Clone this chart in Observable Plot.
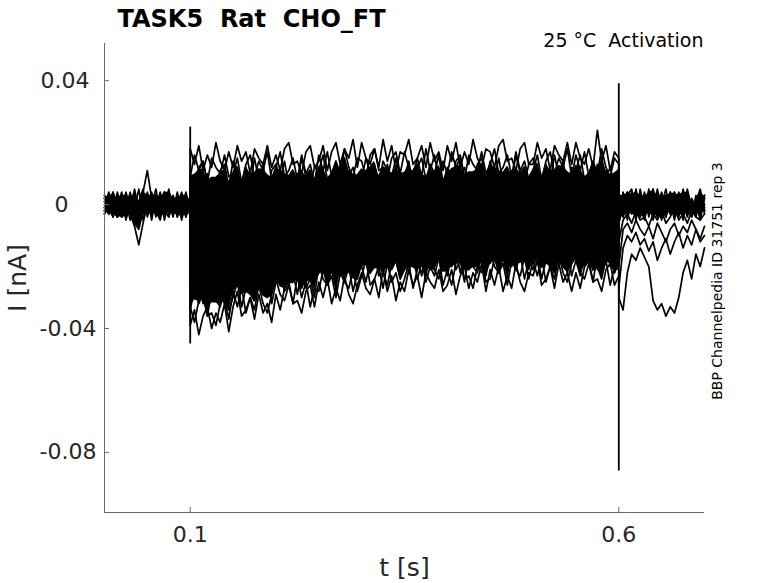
<!DOCTYPE html>
<html><head><meta charset="utf-8">
<script src="https://cdn.jsdelivr.net/npm/d3@7"></script>
<script src="https://cdn.jsdelivr.net/npm/@observablehq/plot@0.6"></script>
<style>
html,body{margin:0;padding:0;background:#fff;overflow:hidden;}
</style>
</head><body>
<div id="chart"></div>
<script>
// sample times in ms (pre-pulse, 0.1–0.6 s step, tail)
const tMs = [
  0,5,10,15,20,25,30,35,40,45,50,55,60,65,70,75,80,85,90,95,100,
  100,105,110,115,120,125,130,135,140,145,
  150,155,160,165,170,175,180,185,190,195,
  200,205,210,215,220,225,230,235,240,245,
  250,255,260,265,270,275,280,285,290,295,
  300,305,310,315,320,325,330,335,340,345,
  350,355,360,365,370,375,380,385,390,395,
  400,405,410,415,420,425,430,435,440,445,
  450,455,460,465,470,475,480,485,490,495,
  500,505,510,515,520,525,530,535,540,545,
  550,555,560,565,570,575,580,585,590,595,
  600,
  600,605,610,615,620,625,630,635,640,645,650,655,660,665,670,675,680,685,690,695,700
];

// current traces in pA
const trace01 = [
  2,-3,4,-1,-4,3,1,-2,5,-3,0,4,-2,-5,3,1,-4,2,-1,3,0,
  18,13,19,11,16,12,20,14,11,17,
  12,19,14,17,10,18,15,13,19,12,
  16,11,18,20,13,14,10,17,19,12,
  14,19,11,17,20,13,18,15,21,12,
  20,15,13,18,12,21,14,19,11,17,
  16,21,13,15,19,12,20,14,17,11,
  19,14,20,12,17,13,21,15,12,18,
  17,12,19,21,14,15,11,18,20,13,
  13,20,15,18,11,19,16,14,20,13,
  20,15,13,18,12,24,14,19,11,17,
  15,
  0,3,-2,4,-4,1,-3,5,-1,-4,2,-3,4,-1,2,-5,3,0,-2,4,-3
];
const trace02 = [
  -1,4,-3,2,0,-4,3,-2,1,5,-3,2,-1,-4,4,0,-2,3,-5,1,2,
  9,16,11,14,7,15,12,10,16,9,
  10,15,7,13,16,9,14,11,17,8,
  12,17,9,11,15,8,16,10,13,7,
  16,11,17,9,14,10,18,12,9,15,
  14,9,16,18,11,12,8,15,17,10,
  17,12,10,15,9,18,11,16,8,14,
  10,17,12,15,8,16,13,11,17,10,
  13,18,10,12,16,9,17,11,14,8,
  11,16,8,14,17,10,15,12,18,9,
  16,11,17,9,14,10,18,12,9,15,
  13,
  4,-1,-3,2,-4,5,-2,3,-5,1,0,5,-3,-1,3,-4,4,-2,1,-5,2
];
const trace03 = [
  3,0,-4,2,-2,4,-1,-3,1,-5,2,3,-2,0,-3,4,1,-4,2,-1,0,
  10,5,12,14,7,8,4,11,13,6,
  14,9,7,12,6,15,8,13,5,11,
  13,8,14,6,11,7,15,9,6,12,
  11,16,8,10,14,7,15,9,12,6,
  8,15,10,13,6,14,11,9,15,8,
  9,14,6,12,15,8,13,10,16,7,
  12,7,14,16,9,10,6,13,15,8,
  14,9,15,7,12,8,16,10,7,13,
  15,10,8,13,7,16,9,14,6,12,
  11,16,8,10,14,7,15,9,12,6,
  11,
  -2,3,-5,1,4,-3,2,-1,5,-4,3,-2,4,-4,1,-3,5,-1,-4,2,0
];
const trace04 = [
  -3,1,4,-2,3,-5,0,2,-1,4,-4,1,3,-2,-1,5,-3,0,2,-4,1,
  4,9,1,7,10,3,8,5,11,2,
  7,12,4,6,10,3,11,5,8,2,
  4,11,6,9,2,10,7,5,11,4,
  12,7,5,10,4,13,6,11,3,9,
  11,6,12,4,9,5,13,7,4,10,
  9,4,11,13,6,7,3,10,12,5,
  6,11,3,9,12,5,10,7,13,4,
  5,12,7,10,3,11,8,6,12,5,
  8,13,5,7,11,4,12,6,9,3,
  12,7,5,10,4,13,6,11,3,9,
  8,
  1,-4,3,5,-2,-1,-5,2,4,-3,0,2,-3,4,-1,-2,3,-4,1,5,-2
];
const trace05 = [
  1,-2,3,-4,2,0,-3,5,-1,-2,4,-3,1,2,-5,3,-1,0,4,-2,-3,
  7,2,0,5,-1,8,1,6,-2,4,
  7,2,8,0,5,1,9,3,0,6,
  2,7,-1,5,8,1,6,3,9,0,
  2,9,4,7,0,8,5,3,9,2,
  5,10,2,4,8,1,9,3,6,0,
  6,1,8,10,3,4,0,7,9,2,
  9,4,2,7,1,10,3,8,0,6,
  3,8,0,6,9,2,7,4,10,1,
  8,3,9,1,6,2,10,4,1,7,
  2,9,4,7,0,8,5,3,9,2,
  5,
  -3,4,-1,2,-5,3,0,-2,4,-3,2,-4,1,3,-2,5,-1,-3,0,4,-1
];
const trace06 = [
  -2,3,0,-1,4,-3,2,-4,1,3,-2,0,5,-3,1,-1,2,-4,3,0,-2,
  0,5,-3,-1,3,-4,4,-2,1,-5,
  2,-3,4,6,-1,0,-4,3,5,-2,
  4,-1,5,-3,2,-2,6,0,-3,3,
  0,5,-3,3,6,-1,4,1,7,-2,
  -1,6,1,4,-3,5,2,0,6,-1,
  6,1,-1,4,-2,7,0,5,-3,3,
  2,7,-1,1,5,-2,6,0,3,-3,
  5,0,6,-2,3,-1,7,1,-2,4,
  3,-2,5,7,0,1,-3,4,6,-1,
  0,5,-3,3,6,-1,4,1,7,-2,
  2,
  2,-1,4,-3,0,3,-4,1,-2,5,-1,-3,2,0,4,-2,1,-4,3,-1,2
];
const trace07 = [
  0,2,-3,4,-1,-2,-3,-7,-13,-6,0,-1,3,-3,0,4,-2,1,-4,2,0,
  -1,-6,0,-8,-3,-7,1,-5,-8,-2,
  -5,0,-8,-2,1,-6,-1,-4,2,-7,
  -1,-6,1,3,-4,-3,-7,0,2,-5,
  -2,3,-5,-3,1,-6,2,-4,-1,-7,
  3,-2,-4,1,-5,4,-3,2,-6,0,
  -4,3,-2,1,-6,2,-1,-3,3,-4,
  2,-3,3,-5,0,-4,4,-2,-5,1,
  -1,4,-4,-2,2,-5,3,-3,0,-6,
  -3,2,-6,0,3,-4,1,-2,4,-5,
  0,-5,2,4,-3,-2,-6,1,3,-4,
  -1,
  3,-2,4,-1,-4,2,0,-3,5,-2,1,-4,3,0,-2,4,-3,1,-1,3,-2
];
const trace08 = [
  -1,3,-2,-4,2,1,-5,3,-2,4,11,2,-3,-1,4,-4,1,-2,3,-1,1,
  -11,-4,-9,-6,-13,-5,-8,-10,-4,-11,
  -3,-8,-10,-5,-11,-2,-9,-4,-12,-6,
  -8,-3,-11,-5,-2,-9,-4,-7,-1,-10,
  -2,-7,-1,-9,-4,-8,0,-6,-9,-3,
  -4,-9,-2,0,-7,-6,-10,-3,-1,-8,
  -4,1,-7,-5,-1,-8,0,-6,-3,-9,
  -7,0,-5,-2,-9,-1,-4,-6,0,-7,
  -3,-8,-1,1,-6,-5,-9,-2,0,-7,
  0,-5,-7,-2,-8,1,-6,-1,-9,-3,
  -1,-6,0,-8,-3,-7,1,-5,-8,-2,
  -4,
  -4,1,3,-2,5,-1,-3,2,-4,0,4,-2,1,-5,3,-1,2,-3,0,4,-2
];
const trace09 = [
  2,-1,-4,3,0,-3,1,4,-2,-1,3,-5,2,0,-2,3,-3,1,-1,4,-2,
  -11,-16,-9,-7,-14,-13,-17,-10,-8,-15,
  -10,-5,-13,-11,-7,-14,-6,-12,-9,-15,
  -5,-10,-12,-7,-13,-4,-11,-6,-14,-8,
  -11,-4,-9,-6,-13,-5,-8,-10,-4,-11,
  -10,-5,-13,-7,-4,-11,-6,-9,-3,-12,
  -4,-9,-3,-11,-6,-10,-2,-8,-11,-5,
  -6,-11,-4,-2,-9,-8,-12,-5,-3,-10,
  -3,-8,-10,-5,-11,-2,-9,-4,-12,-6,
  -7,-2,-10,-8,-4,-11,-3,-9,-6,-12,
  -10,-3,-8,-5,-12,-4,-7,-9,-3,-10,
  -7,
  0,-3,2,-1,4,-4,1,3,-2,0,-5,2,-1,3,-3,4,0,-2,1,-4,3
];
const trace10 = [
  -3,1,2,-4,3,-2,0,-6,-4,2,-1,3,-3,1,4,-2,-1,2,-4,3,-1,
  -18,-13,-21,-15,-12,-19,-14,-17,-11,-20,
  -11,-16,-10,-18,-13,-17,-9,-15,-18,-12,
  -13,-8,-16,-14,-10,-17,-9,-15,-12,-18,
  -11,-16,-9,-7,-14,-13,-17,-10,-8,-15,
  -7,-12,-14,-9,-15,-6,-13,-8,-16,-10,
  -14,-7,-12,-9,-16,-8,-11,-13,-7,-14,
  -12,-7,-15,-9,-6,-13,-8,-11,-5,-14,
  -10,-5,-13,-11,-7,-14,-6,-12,-9,-15,
  -7,-12,-6,-14,-9,-13,-5,-11,-14,-8,
  -9,-14,-7,-5,-12,-11,-15,-8,-6,-13,
  -10,
  2,-4,1,-1,3,-3,0,4,-2,1,-4,3,-1,2,-3,0,4,-2,1,-1,3
];
const trace11 = [
  1,-3,0,2,-4,3,-1,-2,-7,1,-3,2,0,-4,3,-1,2,-2,0,-3,1,
  -16,-21,-23,-18,-24,-15,-22,-17,-25,-19,
  -17,-22,-15,-13,-20,-19,-23,-16,-14,-21,
  -19,-12,-17,-14,-21,-13,-16,-18,-12,-19,
  -15,-10,-18,-16,-12,-19,-11,-17,-14,-20,
  -11,-16,-10,-18,-13,-17,-9,-15,-18,-12,
  -16,-11,-19,-13,-10,-17,-12,-15,-9,-18,
  -9,-14,-16,-11,-17,-8,-15,-10,-18,-12,
  -16,-9,-14,-11,-18,-10,-13,-15,-9,-16,
  -12,-17,-10,-8,-15,-14,-18,-11,-9,-16,
  -13,-8,-16,-14,-10,-17,-9,-15,-12,-18,
  -13,
  -1,2,-3,0,3,-2,4,-4,1,-1,2,-3,0,4,-2,1,-4,2,-1,3,0
];
const trace12 = [
  -2,0,3,-3,1,-1,4,-2,-5,2,0,-3,1,3,-2,-4,2,0,-1,3,-2,
  -24,-19,-27,-25,-21,-28,-20,-26,-23,-29,
  -24,-17,-22,-19,-26,-18,-21,-23,-17,-24,
  -16,-21,-15,-23,-18,-22,-14,-20,-23,-17,
  -14,-19,-21,-16,-22,-13,-20,-15,-23,-17,
  -19,-14,-22,-16,-13,-20,-15,-18,-12,-21,
  -15,-20,-13,-11,-18,-17,-21,-14,-12,-19,
  -16,-11,-19,-17,-13,-20,-12,-18,-15,-21,
  -17,-12,-20,-14,-11,-18,-13,-16,-10,-19,
  -18,-11,-16,-13,-20,-12,-15,-17,-11,-18,
  -11,-16,-18,-13,-19,-10,-17,-12,-20,-14,
  -15,
  -6,-1,2,-3,1,-4,3,0,-2,4,-3,1,-1,2,-4,3,-2,0,-3,2,-1
];
const trace13 = [
  3,-2,1,-4,0,2,-3,-6,-8,-2,1,-1,3,-4,2,0,-2,4,-3,1,-1,
  -25,-30,-24,-32,-27,-31,-23,-29,-32,-26,
  -21,-26,-28,-23,-29,-20,-27,-22,-30,-24,
  -21,-26,-19,-17,-24,-23,-27,-20,-18,-25,
  -22,-17,-25,-19,-16,-23,-18,-21,-15,-24,
  -19,-14,-22,-20,-16,-23,-15,-21,-18,-24,
  -21,-14,-19,-16,-23,-15,-18,-20,-14,-21,
  -15,-20,-14,-22,-17,-21,-13,-19,-22,-16,
  -19,-14,-22,-16,-13,-20,-15,-18,-12,-21,
  -13,-18,-20,-15,-21,-12,-19,-14,-22,-16,
  -17,-12,-20,-18,-14,-21,-13,-19,-16,-22,
  -17,
  -12,-5,-3,-6,-2,-5,-4,-7,-3,-5,-2,-6,-4,-1,-5,-3,-6,-2,-4,-5,-3
];
const trace14 = [
  -1,2,-2,0,3,-4,1,-3,-4,3,-2,1,-1,4,-3,0,2,-2,1,-4,2,
  -34,-27,-32,-29,-36,-28,-31,-33,-27,-34,
  -30,-25,-33,-27,-24,-31,-26,-29,-23,-32,
  -25,-20,-28,-26,-22,-29,-21,-27,-24,-30,
  -19,-24,-26,-21,-27,-18,-25,-20,-28,-22,
  -20,-25,-18,-16,-23,-22,-26,-19,-17,-24,
  -17,-22,-16,-24,-19,-23,-15,-21,-24,-18,
  -23,-16,-21,-18,-25,-17,-20,-22,-16,-23,
  -15,-20,-22,-17,-23,-14,-21,-16,-24,-18,
  -21,-16,-24,-18,-15,-22,-17,-20,-14,-23,
  -18,-23,-16,-14,-21,-20,-24,-17,-15,-22,
  -19,
  -20,-8,-6,-9,-5,-8,-10,-7,-11,-6,-9,-12,-8,-6,-10,-7,-9,-5,-8,-11,-7
];
const trace15 = [
  2,-3,1,-1,-4,2,0,-5,-3,1,-2,3,-4,0,2,-1,3,-3,-1,2,0,
  -33,-38,-31,-29,-36,-35,-39,-32,-30,-37,
  -28,-33,-27,-35,-30,-34,-26,-32,-35,-29,
  -24,-29,-31,-26,-32,-23,-30,-25,-33,-27,
  -28,-21,-26,-23,-30,-22,-25,-27,-21,-28,
  -23,-18,-26,-24,-20,-27,-19,-25,-22,-28,
  -24,-19,-27,-21,-18,-25,-20,-23,-17,-26,
  -21,-26,-19,-17,-24,-23,-27,-20,-18,-25,
  -24,-17,-22,-19,-26,-18,-21,-23,-17,-24,
  -18,-23,-17,-25,-20,-24,-16,-22,-25,-19,
  -17,-22,-24,-19,-25,-16,-23,-18,-26,-20,
  -21,
  -27,-14,-10,-12,-9,-13,-11,-15,-12,-18,-14,-11,-16,-12,-9,-14,-10,-13,-8,-12,-10
];
const trace16 = [
  -2,1,3,-1,-3,0,2,-4,-6,0,3,-2,1,-3,4,-1,0,2,-3,1,-1,
  -39,-34,-42,-36,-33,-40,-35,-38,-32,-41,
  -33,-28,-36,-34,-30,-37,-29,-35,-32,-38,
  -29,-34,-27,-25,-32,-31,-35,-28,-26,-33,
  -25,-30,-24,-32,-27,-31,-23,-29,-32,-26,
  -22,-27,-29,-24,-30,-21,-28,-23,-31,-25,
  -28,-21,-26,-23,-30,-22,-25,-27,-21,-28,
  -26,-21,-29,-23,-20,-27,-22,-25,-19,-28,
  -21,-26,-20,-28,-23,-27,-19,-25,-28,-22,
  -23,-18,-26,-24,-20,-27,-19,-25,-22,-28,
  -22,-27,-20,-18,-25,-24,-28,-21,-19,-26,
  -23,
  -30,-34,-22,-16,-18,-14,-17,-20,-31,-34,-32,-36,-33,-35,-30,-22,-18,-24,-16,-20,-14
];

// capacitive transients at the step edges (nA)
const spikeT = [0.1, 0.6];
const spikeHi = [0.025, 0.039];
const spikeLo = [-0.045, -0.086];

const xTicks = [0.1, 0.6];
const xTickLabels = ["0.1", "0.6"];
const yTicks = [0.04, 0, -0.04, -0.08];
const yTickLabels = ["0.04", "0", "-0.04", "-0.08"];
const xDomain = [0, 0.7];
const yDomain = [-0.0994, 0.052];

const titleText = "TASK5  Rat  CHO_FT";
const condText = "25 °C  Activation";
const sideText = "BBP Channelpedia ID 31751 rep 3";
const xLabel = "t [s]";
const yLabel = "I [nA]";

const traces = [trace01,trace02,trace03,trace04,trace05,trace06,trace07,trace08,
                trace09,trace10,trace11,trace12,trace13,trace14,trace15,trace16];
const samples = traces.flatMap((tr, j) => tr.map((v, k) => ({t: tMs[k] / 1000, i: v / 1000, trace: j})));

// where the traces overlap the picture is solid black: fill between inner quantiles of the traces
const tailStart = 122; // first tail sample index (t = 600 ms, after the step)
const core = tMs.map((t, k) => {
  const inTail = k >= tailStart;
  const vals = (inTail ? traces.slice(0, 12) : traces).map(tr => tr[k] / 1000).sort(d3.ascending);
  return {t: t / 1000, lo: d3.quantileSorted(vals, 0.12), hi: d3.quantileSorted(vals, 0.88)};
});
const spikes = spikeT.map((t, k) => ({t, lo: spikeLo[k], hi: spikeHi[k]}));

const W = 778, H = 583, mL = 104, mR = 74, mT = 43, mB = 71;
const axisColor = "#6b6b6b";
const NB = "\u00A0";

const chart = Plot.plot({
  width: W, height: H,
  marginLeft: mL, marginRight: mR, marginTop: mT, marginBottom: mB,
  style: {fontFamily: "DejaVu Sans", fontSize: "22px", color: "#262626", background: "#fff", overflow: "visible"},
  x: {domain: xDomain, ticks: xTicks, tickSize: 0, tickPadding: 14,
      tickFormat: d => xTickLabels[xTicks.indexOf(d)], label: null},
  y: {domain: yDomain, ticks: yTicks, tickSize: 0, tickPadding: 8,
      tickFormat: d => yTickLabels[yTicks.indexOf(d)].padEnd(5, NB), label: null},
  marks: [
    Plot.areaY(core, {x: "t", y1: "lo", y2: "hi", fill: "#000", curve: "linear"}),
    Plot.line(samples, {x: "t", y: "i", z: "trace", stroke: "#000", strokeWidth: 1.7}),
    Plot.ruleX(spikes, {x: "t", y1: "lo", y2: "hi", stroke: "#000", strokeWidth: 1.8}),
    Plot.ruleX([xDomain[0]], {stroke: axisColor}),
    Plot.ruleY([yDomain[0]], {stroke: axisColor}),
    Plot.tickY(yTicks, {y: d => d, stroke: axisColor, insetRight: W - mL - mR - 5}),
    Plot.tickX(xTicks, {x: d => d, stroke: axisColor, insetTop: H - mT - mB - 5}),
    Plot.text([titleText], {text: d => d, frameAnchor: "top-left", textAnchor: "start", lineAnchor: "middle",
      dx: 13, dy: -24, fontSize: 24, fontWeight: "bold", fill: "#000"}),
    Plot.text([condText], {text: d => d, frameAnchor: "top-right", textAnchor: "end", lineAnchor: "middle",
      dx: -1, dy: -3, fontSize: 19, fill: "#000"}),
    Plot.text([sideText], {text: d => d, frameAnchor: "right", textAnchor: "middle", lineAnchor: "middle",
      rotate: -90, dx: 13, dy: 3, fontSize: 14, fill: "#000"}),
    Plot.text([xLabel], {text: d => d, frameAnchor: "bottom", textAnchor: "middle", lineAnchor: "middle",
      dy: 55, fontSize: 25, fill: "#262626"}),
    Plot.text([yLabel], {text: d => d, frameAnchor: "left", textAnchor: "middle", lineAnchor: "middle",
      rotate: -90, dx: -87, fontSize: 25, fill: "#262626"})
  ]
});
document.getElementById("chart").appendChild(chart);
</script>
</body></html>
